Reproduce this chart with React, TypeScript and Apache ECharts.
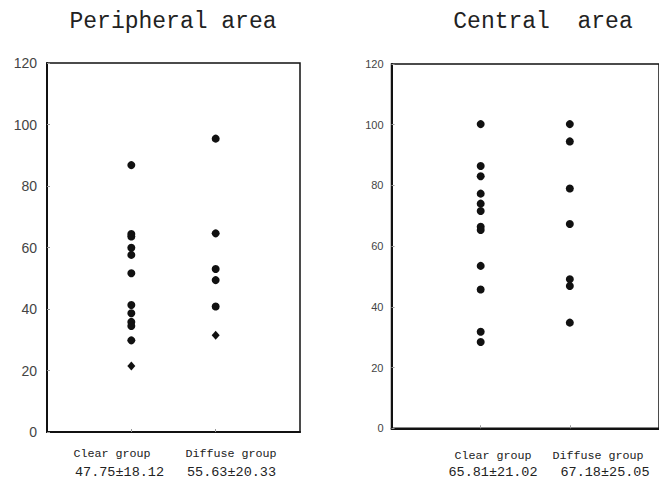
import React, { useEffect, useRef } from "react";
import * as echarts from "echarts";

const groups = ["Clear group", "Diffuse group"];

const periphClear = [86.8, 64.4, 63.6, 59.9, 57.6, 51.6, 41.3, 38.6, 35.8, 34.5, 29.8];
const periphClearDiamond = [21.5];
const periphDiffuse = [95.4, 64.6, 53.0, 49.4, 40.8];
const periphDiffuseDiamond = [31.5];
const centralClear = [100.2, 86.4, 83.0, 77.3, 74.0, 71.6, 66.4, 65.3, 53.5, 45.7, 31.8, 28.4];
const centralDiffuse = [100.2, 94.5, 79.0, 67.3, 49.1, 46.9, 34.8];

const periphStats = ["47.75±18.12", "55.63±20.33"];
const centralStats = ["65.81±21.02", "67.18±25.05"];
const titles = ["Peripheral area", "Central  area"];

const mono = "'Liberation Mono', 'DejaVu Sans Mono', monospace";
const sans = "'Liberation Sans', Arial, sans-serif";

const pts = (xi: number, vals: number[]) => vals.map((v) => [xi, v]);

export default function App() {
  const ref = useRef<HTMLDivElement>(null);
  useEffect(() => {
    if (!ref.current) return;
    const chart = echarts.init(ref.current, null, { renderer: "svg" });
    const yAxisBase = (gi: number, fs: number, margin: number) => ({
      type: "value",
      gridIndex: gi,
      min: 0,
      max: 120,
      interval: 20,
      axisLine: { show: true, lineStyle: { color: "#111", width: 2 } },
      axisTick: { show: true, inside: true, length: 3, lineStyle: { color: "#999", width: 1 } },
      axisLabel: { fontFamily: sans, fontSize: fs, color: "#444", margin },
      splitLine: { show: false },
    });
    const xAxisBase = (gi: number) => ({
      type: "value",
      gridIndex: gi,
      min: 0,
      max: 3,
      interval: 1,
      axisLine: { show: true, onZero: false, lineStyle: { color: "#111", width: 2 } },
      axisTick: { show: true, inside: true, length: 3, customValues: [1, 2], lineStyle: { color: "#999" } },
      axisLabel: { show: false },
      splitLine: { show: false },
    });
    const dot = (xi: number, yi: number, vals: number[], x: number, symbol = "circle", size: any = 8) => ({
      type: "scatter",
      xAxisIndex: xi,
      yAxisIndex: yi,
      symbol,
      symbolSize: size,
      itemStyle: { color: "#111", opacity: 1 },
      data: pts(x, vals),
    });
    const txt = (x: number, y: number, text: string, fs: number) => ({
      type: "text",
      x,
      y,
      style: { text, fill: "#222", font: `${fs}px ${mono}`, align: "center", verticalAlign: "middle" },
    });
    chart.setOption({
      animation: false,
      backgroundColor: "#fff",
      grid: [
        { left: 47, top: 63, width: 253, height: 369, show: true, borderColor: "#111", borderWidth: 1.5 },
        { left: 391.5, top: 64, width: 279, height: 364.3, show: true, borderColor: "#111", borderWidth: 1.5 },
      ],
      xAxis: [xAxisBase(0), xAxisBase(1)],
      yAxis: [yAxisBase(0, 14, 10), yAxisBase(1, 11, 8)],
      series: [
        dot(0, 0, periphClear, 1),
        dot(0, 0, periphClearDiamond, 1, "diamond", [8, 9]),
        dot(0, 0, periphDiffuse, 2),
        dot(0, 0, periphDiffuseDiamond, 2, "diamond", [8, 9]),
        dot(1, 1, centralClear, 1),
        dot(1, 1, centralDiffuse, 2),
      ],
      graphic: [
        txt(173, 22, titles[0], 23),
        txt(543, 22, titles[1], 23),
        txt(112, 454, groups[0], 11.7),
        txt(231, 454, groups[1], 11.7),
        txt(119.5, 472, periphStats[0], 13.5),
        txt(231.5, 472, periphStats[1], 13.5),
        txt(493, 456, groups[0], 11.7),
        txt(598, 456, groups[1], 11.7),
        txt(493, 472.5, centralStats[0], 13.5),
        txt(605, 472.5, centralStats[1], 13.5),
      ],
    });
    return () => chart.dispose();
  }, []);
  return (
    <div
      ref={ref}
      style={{ position: "fixed", left: 0, top: 0, width: 659, height: 481, background: "#fff" }}
    />
  );
}
